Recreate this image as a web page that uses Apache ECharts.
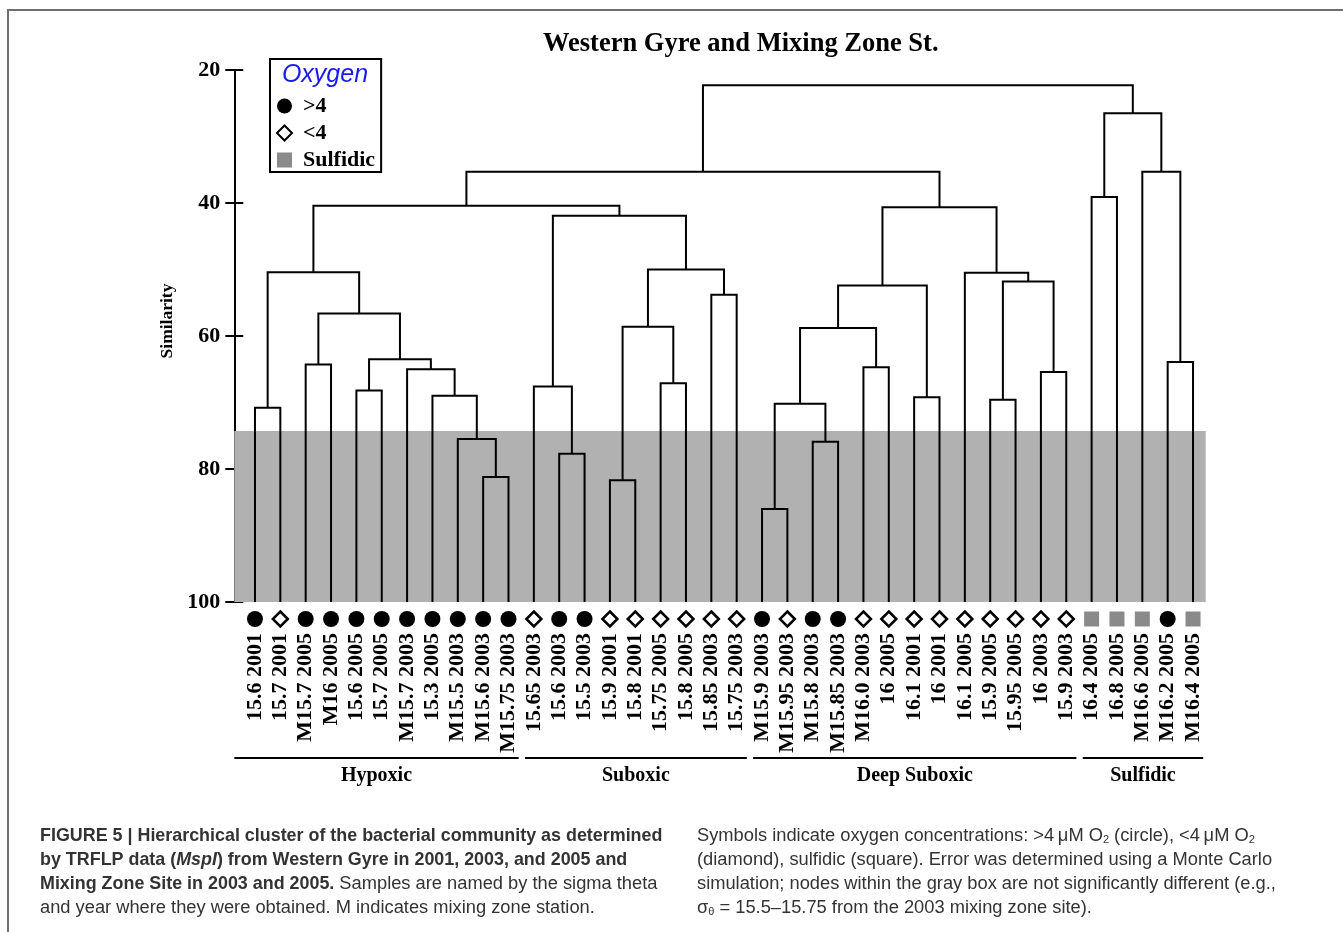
<!DOCTYPE html>
<html><head><meta charset="utf-8">
<script src="https://cdn.jsdelivr.net/npm/echarts@6/dist/echarts.min.js"></script>
<style>html,body{margin:0;padding:0;background:#fff}#c{width:1343px;height:932px}</style>
</head><body><div id="c"></div>
<script>
// ---- data ----
const leaves = ['15.6 2001','15.7 2001','M15.7 2005','M16 2005','15.6 2005','15.7 2005','M15.7 2003','15.3 2005','M15.5 2003','M15.6 2003','M15.75 2003',
  '15.65 2003','15.6 2003','15.5 2003','15.9 2001','15.8 2001','15.75 2005','15.8 2005','15.85 2003','15.75 2003',
  'M15.9 2003','M15.95 2003','M15.8 2003','M15.85 2003','M16.0 2003','16 2005','16.1 2001','16 2001','16.1 2005','15.9 2005','15.95 2005','16 2003','15.9 2003',
  '16.4 2005','16.8 2005','M16.6 2005','M16.2 2005','M16.4 2005'];
const oxygen = ['>4','<4','>4','>4','>4','>4','>4','>4','>4','>4','>4',
  '<4','>4','>4','<4','<4','<4','<4','<4','<4',
  '>4','<4','>4','>4','<4','<4','<4','<4','<4','<4','<4','<4','<4',
  'Sulfidic','Sulfidic','Sulfidic','>4','Sulfidic'];
const oxygenClasses = ['>4','<4','Sulfidic'];
// merges: [child A, child B, similarity]; leaves are 0..37, merge k becomes node 38+k
const merges = [
  [0,1,70.8],[2,3,64.3],[4,5,68.2],[9,10,81.2],[8,41,75.5],[7,42,69.0],[6,43,65.0],[40,44,63.5],[39,45,56.6],[38,46,50.4],
  [12,13,77.7],[11,48,67.6],[14,15,81.7],[16,17,67.1],[50,51,58.6],[18,19,53.8],[52,53,50.0],[49,54,41.9],[47,55,40.4],
  [20,21,86.0],[22,23,75.9],[57,58,70.2],[24,25,64.7],[59,60,58.8],[26,27,69.2],[61,62,52.4],[29,30,69.6],[31,32,65.4],[64,65,51.8],[28,66,50.5],[63,67,40.65],[56,68,35.3],
  [33,34,39.1],[36,37,63.9],[35,71,35.3],[70,72,26.5],[69,73,22.3]
];
const groups = ['Hypoxic','Suboxic','Deep Suboxic','Sulfidic'];
const groupStart = [0,11,20,33];
const groupEnd = [10,19,32,37];
const grayLimit = 74.3;
const yMin = 20, yMax = 100, yStep = 20;
const title = 'Western Gyre and Mixing Zone St.';

// ---- derived ----
const nodeX = leaves.map((_, i) => i);
const nodeH = leaves.map(() => yMax);
const links = merges.map(([a, b, h]) => {
  nodeX.push((nodeX[a] + nodeX[b]) / 2); nodeH.push(h);
  return [nodeX[a], nodeH[a], nodeX[b], nodeH[b], h];
});
const AXIS_OFFSET = 8;
const SERIF = '"Liberation Serif", "DejaVu Serif", serif';
const SANS = '"Liberation Sans", Arial, sans-serif';

const chart = echarts.init(document.getElementById('c'), null, {renderer: 'canvas'});

const scatterStyles = {
  '>4': {symbol: 'circle', symbolSize: 16, itemStyle: {color: '#000', opacity: 1}},
  '<4': {symbol: 'diamond', symbolSize: 15, itemStyle: {color: '#fff', borderColor: '#000', borderWidth: 2.5, opacity: 1}},
  'Sulfidic': {symbol: 'rect', symbolSize: 15, itemStyle: {color: '#8a8a8a', opacity: 1}}
};
const scatterSeries = oxygenClasses.map(c => Object.assign({
  type: 'scatter', name: c, xAxisIndex: 1, yAxisIndex: 0, clip: false, z: 5,
  symbolOffset: [0, 17], silent: true,
  data: leaves.map((_, i) => i).filter(i => oxygen[i] === c).map(i => [i, yMax])
}, scatterStyles[c]));

const CAP = 18.3, CAPB = 17.9;
const capRich = {
  b: {fontFamily: SANS, fontWeight: 'bold', fontSize: CAPB, color: '#231f20'},
  bi: {fontFamily: SANS, fontWeight: 'bold', fontStyle: 'italic', fontSize: CAPB, color: '#231f20'},
  r: {fontFamily: SANS, fontSize: CAP, color: '#3a3a3a'},
  s: {fontFamily: SANS, fontSize: 11, color: '#3a3a3a', verticalAlign: 'bottom', padding: [7, 0, 0, 0]}
};
function capText(x, y, text) {
  return {type: 'text', x: x, y: y, style: {text: text, rich: capRich, verticalAlign: 'middle', fill: '#333'}};
}

chart.setOption({
  animation: false,
  backgroundColor: '#fff',
  title: {text: title, left: 543, top: 31, padding: 0,
    textStyle: {fontFamily: SERIF, fontWeight: 'bold', fontSize: 26.5, color: '#000'}},
  legend: {
    data: oxygenClasses, orient: 'vertical', left: 270, top: 59,
    padding: [36, 6, 1, 6], itemWidth: 15, itemHeight: 15, itemGap: 5,
    borderColor: '#000', borderWidth: 2, backgroundColor: '#fff', selectedMode: false,
    textStyle: {fontFamily: SERIF, fontWeight: 'bold', fontSize: 22, color: '#000', padding: [0, 0, 0, 6]}
  },
  grid: {left: 242.3, right: 137.3, top: 70, bottom: 330, outerBoundsMode: 'none'},
  xAxis: [
    {type: 'category', data: leaves, boundaryGap: true,
      axisLine: {show: false, onZero: false}, axisTick: {show: false}, splitLine: {show: false},
      axisLabel: {rotate: 90, interval: 0, margin: 31, fontFamily: SERIF, fontWeight: 'bold', fontSize: 22, color: '#000'}},
    {type: 'value', min: -0.5, max: leaves.length - 0.5, show: false}
  ],
  yAxis: [
    {type: 'value', inverse: true, min: yMin, max: yMax, interval: yStep, offset: AXIS_OFFSET,
      axisLine: {show: true, onZero: false, lineStyle: {color: '#000', width: 2}},
      axisTick: {show: true, length: 9, lineStyle: {color: '#000', width: 2}},
      axisLabel: {margin: 14, fontFamily: SERIF, fontWeight: 'bold', fontSize: 22, color: '#000'},
      splitLine: {show: false},
      name: 'Similarity', nameLocation: 'middle', nameGap: 56,
      nameTextStyle: {fontFamily: SERIF, fontWeight: 'bold', fontSize: 17.5, color: '#000', padding: [0, 0, 0, 30]}},
    {type: 'value', inverse: true, min: yMin, max: yMax, interval: yStep, offset: AXIS_OFFSET, position: 'left',
      axisLine: {show: false, onZero: false}, axisLabel: {show: false}, splitLine: {show: false},
      axisTick: {show: true, inside: true, length: 9, lineStyle: {color: '#000', width: 2}}}
  ],
  graphic: [
    {type: 'rect', shape: {x: 8, y: 10, width: 1400, height: 1000}, style: {fill: 'none', stroke: '#707070', lineWidth: 2}, z: 100, silent: true},
    {type: 'text', x: 325, y: 75, z: 100, style: {text: 'Oxygen', align: 'center', verticalAlign: 'middle',
      fontFamily: SANS, fontStyle: 'italic', fontSize: 25, fill: '#1a1aee'}},
    capText(40, 836, '{b|FIGURE 5 | Hierarchical cluster of the bacterial community as determined}'),
    capText(40, 860, '{b|by TRFLP data (}{bi|MspI}{b|) from Western Gyre in 2001, 2003, and 2005 and}'),
    capText(40, 884, '{b|Mixing Zone Site in 2003 and 2005.}{r| Samples are named by the sigma theta}'),
    capText(40, 908, '{r|and year where they were obtained. M indicates mixing zone station.}'),
    capText(697, 836, '{r|Symbols indicate oxygen concentrations: >4\u2009\u03bcM O}{s|2}{r| (circle), <4\u2009\u03bcM O}{s|2}'),
    capText(697, 860, '{r|(diamond), sulfidic (square). Error was determined using a Monte Carlo}'),
    capText(697, 884, '{r|simulation; nodes within the gray box are not significantly different (e.g.,}'),
    capText(697, 908, '{r|\u03c3}{s|\u03b8}{r| = 15.5\u201315.75 from the 2003 mixing zone site).}')
  ],
  series: [
    {type: 'custom', name: 'box', xAxisIndex: 1, yAxisIndex: 0, z: 1, silent: true,
      data: [[-0.5, grayLimit, leaves.length - 0.5, yMax]],
      renderItem: (params, api) => {
        const a = api.coord([api.value(0), api.value(1)]);
        const b = api.coord([api.value(2), api.value(3)]);
        const x0 = params.coordSys.x - AXIS_OFFSET;
        return {type: 'rect', shape: {x: x0, y: a[1], width: b[0] - x0, height: b[1] - a[1]}, style: {fill: '#b1b1b1'}};
      }},
    {type: 'custom', name: 'links', xAxisIndex: 1, yAxisIndex: 0, z: 3, silent: true,
      encode: {x: [0, 2], y: [1, 3, 4]},
      data: links,
      renderItem: (params, api) => {
        const p1 = api.coord([api.value(0), api.value(1)]);
        const p2 = api.coord([api.value(0), api.value(4)]);
        const p3 = api.coord([api.value(2), api.value(4)]);
        const p4 = api.coord([api.value(2), api.value(3)]);
        return {type: 'polyline', shape: {points: [p1, p2, p3, p4]}, style: {stroke: '#000', lineWidth: 2, fill: null}};
      }},
    {type: 'custom', name: 'groups', xAxisIndex: 1, yAxisIndex: 0, z: 3, silent: true, clip: false,
      data: groups.map((g, i) => [groupStart[i], groupEnd[i]]),
      renderItem: (params, api) => {
        const s = api.value(0), e = api.value(1);
        const base = api.coord([s, yMax])[1];
        const x1 = params.dataIndex === 0 ? params.coordSys.x - AXIS_OFFSET : api.coord([s - 0.35, yMax])[0];
        const x2 = api.coord([e + 0.4, yMax])[0];
        const xc = (x1 + x2) / 2;
        return {type: 'group', children: [
          {type: 'line', shape: {x1: x1, y1: base + 156, x2: x2, y2: base + 156}, style: {stroke: '#000', lineWidth: 2}},
          {type: 'text', x: xc, y: base + 174, style: {text: groups[params.dataIndex], align: 'center', verticalAlign: 'middle',
            fontFamily: SERIF, fontWeight: 'bold', fontSize: 20, fill: '#000'}}
        ]};
      }}
  ].concat(scatterSeries)
});
</script></body></html>
